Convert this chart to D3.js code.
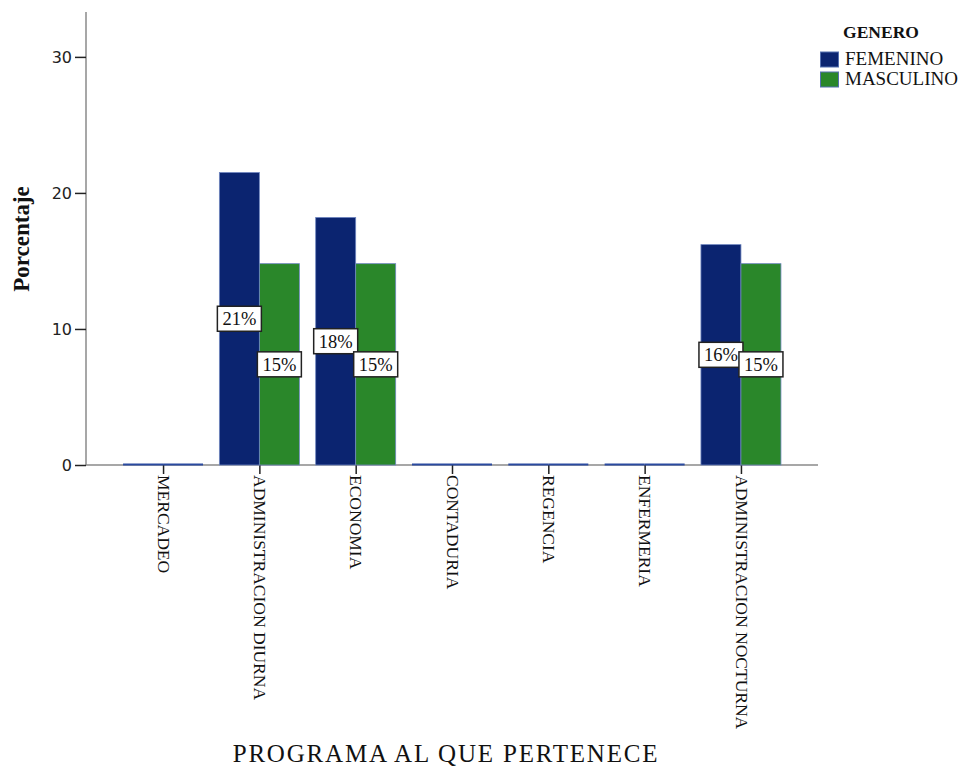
<!DOCTYPE html>
<html><head><meta charset="utf-8">
<script src="https://cdn.jsdelivr.net/npm/d3@7"></script>
<style>body{margin:0;background:#fff}</style>
</head><body>
<svg id="c" width="960" height="767"></svg>
<script>
const categories = ["MERCADEO","ADMINISTRACION DIURNA","ECONOMIA","CONTADURIA","REGENCIA","ENFERMERIA","ADMINISTRACION NOCTURNA"];
const series = ["FEMENINO","MASCULINO"];
const femenino = [0, 21.5, 18.2, 0, 0, 0, 16.2];
const masculino = [0, 14.8, 14.8, 0, 0, 0, 14.8];
const femLabels = ["", "21%", "18%", "", "", "", "16%"];
const mascLabels = ["", "15%", "15%", "", "", "", "15%"];
const yTicks = [0, 10, 20, 30];
const colors = ["#0b2470", "#2a872a"];

(function(){
const svg = d3.select("#c");
const pl = 86, pr = 818, pt = 12, pb = 465;
const y = d3.scaleLinear().domain([0, 33.3]).range([pb, pt]);
const x = d3.scalePoint().domain(categories).range([pl, pr]).padding(0.8);
const sub = d3.scaleBand().domain(series).range([-40, 40]);

// axis lines
svg.append("line").attr("x1", pl).attr("x2", pl).attr("y1", pt).attr("y2", pb).attr("stroke", "#8a8a8a").attr("stroke-width", 1.5);
svg.append("line").attr("x1", pl).attr("x2", pr).attr("y1", pb).attr("y2", pb).attr("stroke", "#8a8a8a").attr("stroke-width", 1.5);

const yAxis = d3.axisLeft(y).tickValues(yTicks).tickSize(11).tickPadding(3).tickSizeOuter(0);
const ya = svg.append("g").attr("transform", `translate(${pl},0)`).call(yAxis);
ya.select(".domain").remove();
ya.selectAll(".tick line").attr("stroke", "#222").attr("stroke-width", 1.5);
ya.selectAll("text").attr("font-family", "DejaVu Sans").attr("font-size", 16).attr("fill", "#222");

const xAxis = d3.axisBottom(x).tickSize(9).tickSizeOuter(0);
const xa = svg.append("g").attr("transform", `translate(0,${pb})`).call(xAxis);
xa.select(".domain").remove();
xa.selectAll(".tick line").attr("stroke", "#222").attr("stroke-width", 1.5);
xa.selectAll("text").attr("font-family", "Liberation Serif").attr("font-size", 17.5).attr("fill", "#111")
  .attr("transform", "rotate(90)").attr("x", 10).attr("y", 0).attr("dy", "0.33em").attr("text-anchor", "start");

// bars
const data = categories.map((c, i) => ({c, vals: [femenino[i], masculino[i]], labs: [femLabels[i], mascLabels[i]]}));
const g = svg.append("g");
data.forEach(d => {
  d.vals.forEach((v, j) => {
    const x0 = x(d.c) + sub(series[j]);
    if (v > 0) {
      g.append("rect").attr("x", x0).attr("y", y(v)).attr("width", sub.bandwidth()).attr("height", y(0) - y(v))
        .attr("fill", colors[j]).attr("stroke", "#6f86c0").attr("stroke-width", 0.8);
    } else {
      g.append("line").attr("x1", x0).attr("x2", x0 + sub.bandwidth()).attr("y1", y(0) - 0.5).attr("y2", y(0) - 0.5)
        .attr("stroke", "#2a4aa0").attr("stroke-width", 2);
    }
  });
});

// value labels
data.forEach(d => {
  d.vals.forEach((v, j) => {
    if (!d.labs[j]) return;
    const cx = x(d.c) + sub(series[j]) + sub.bandwidth() / 2;
    const cy = y(v / 2);
    const lg = svg.append("g").attr("transform", `translate(${cx},${cy})`);
    lg.append("rect").attr("x", -22).attr("y", -12.5).attr("width", 44).attr("height", 25)
      .attr("fill", "#fff").attr("stroke", "#222").attr("stroke-width", 1.5);
    lg.append("text").attr("text-anchor", "middle").attr("dy", "0.35em").attr("font-family", "Liberation Serif")
      .attr("font-size", 18.5).attr("fill", "#111").text(d.labs[j]);
  });
});

// axis titles
svg.append("text").attr("transform", "translate(29,239) rotate(-90)").attr("text-anchor", "middle")
  .attr("font-family", "Liberation Serif").attr("font-weight", "bold").attr("font-size", 23).attr("fill", "#111").text("Porcentaje");
svg.append("text").attr("x", 446).attr("y", 762).attr("text-anchor", "middle")
  .attr("font-family", "Liberation Serif").attr("font-size", 25).attr("letter-spacing", 1.8).attr("fill", "#111").text("PROGRAMA AL QUE PERTENECE");

// legend
svg.append("text").attr("x", 881).attr("y", 38).attr("text-anchor", "middle").attr("font-family", "Liberation Serif")
  .attr("font-weight", "bold").attr("font-size", 17.5).attr("fill", "#111").text("GENERO");
series.forEach((s, j) => {
  const ly = 52 + j * 20;
  svg.append("rect").attr("x", 820.5).attr("y", ly).attr("width", 18).attr("height", 15).attr("fill", colors[j])
    .attr("stroke", "#5570b0").attr("stroke-width", 1);
  svg.append("text").attr("x", 845).attr("y", ly + 13).attr("font-family", "Liberation Serif").attr("font-size", 19)
    .attr("fill", "#111").text(s);
});
})();
</script>
</body></html>
